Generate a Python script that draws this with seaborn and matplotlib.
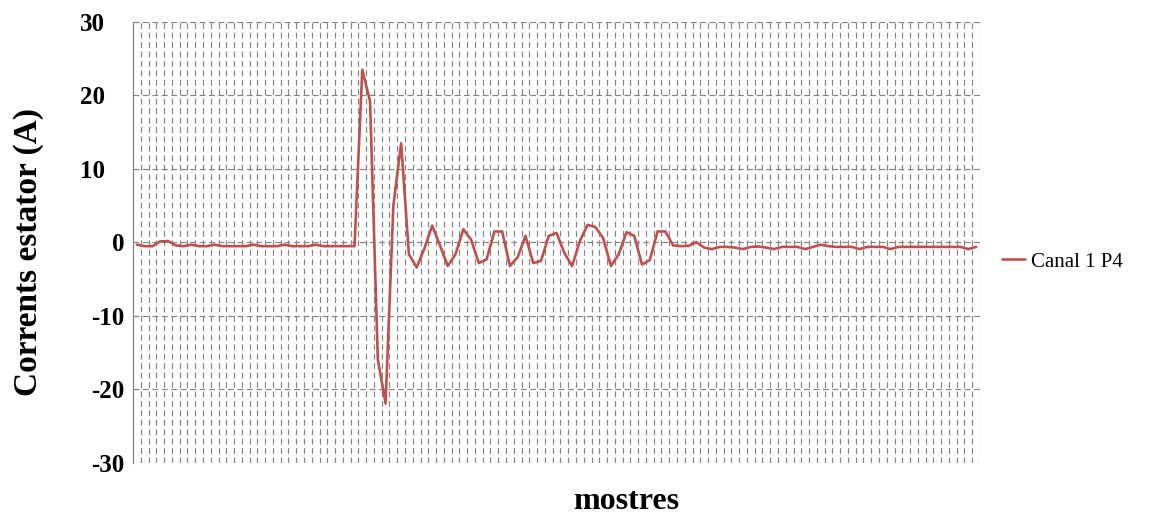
import numpy as np
import pandas as pd
import matplotlib
matplotlib.use("Agg")
import matplotlib.pyplot as plt
import seaborn as sns

# Stator current, channel 1 P4 (A), one value per sample
corrent_previ = [-0.3, -0.5, -0.5, 0.15, 0.2, -0.4, -0.5, -0.3, -0.5, -0.5,
                 -0.3, -0.5, -0.5, -0.5, -0.5, -0.3, -0.5, -0.5, -0.5, -0.3,
                 -0.5, -0.5, -0.5, -0.3, -0.5, -0.5, -0.5, -0.5, -0.5]
corrent_transitori = [23.5, 19.2, -15.9, -21.9, 5.0, 13.5, -1.6, -3.4, -0.8, 2.3,
                      -0.4, -3.2, -1.6, 1.8, 0.4, -2.8, -2.3, 1.5, 1.5, -3.2,
                      -2.0, 0.9, -2.8, -2.5, 0.9, 1.3, -1.4, -3.2, 0.2, 2.4,
                      2.1, 0.6, -3.2, -1.6, 1.4, 0.9, -3.0, -2.4, 1.5, 1.5,
                      -0.4, -0.5, -0.45, 0.05]
corrent_final = [-0.7, -0.9, -0.6, -0.6, -0.7, -0.9, -0.6, -0.55, -0.7, -0.9,
                 -0.6, -0.6, -0.6, -0.9, -0.6, -0.3, -0.5, -0.6, -0.6, -0.6,
                 -0.9, -0.6, -0.6, -0.6, -0.9, -0.6, -0.6, -0.6, -0.6, -0.6,
                 -0.6, -0.6, -0.6, -0.6, -0.9, -0.6]

corrent = corrent_previ + corrent_transitori + corrent_final
mostres = list(range(1, len(corrent) + 1))
yticks = [-30, -20, -10, 0, 10, 20, 30]
serie = "Canal 1 P4"

df = pd.DataFrame({"mostra": mostres, "corrent": corrent})

sns.set_style("white")
plt.rcParams["font.family"] = ["Liberation Serif", "DejaVu Serif"]
plt.rcParams["text.color"] = "black"
plt.rcParams["axes.labelcolor"] = "black"

grid_color = "#858585"
line_color = "#C0504D"

fig = plt.figure(figsize=(11.62, 5.15), dpi=100)
ax = fig.add_axes([0.1145, 0.1010, 0.7289, 0.8563])

sns.lineplot(data=df, x="mostra", y="corrent", ax=ax, color=line_color,
             lw=1.9, label=serie)

n = len(corrent)
ax.set_xlim(0.5, n + 0.5)
ax.set_ylim(-30, 30)

# category boundaries carry the vertical dashed grid
ax.set_xticks(np.arange(1.5, n + 1, 1.0))
ax.tick_params(axis="x", length=0, labelbottom=False)
ax.set_yticks(yticks)
ax.set_yticklabels([str(v) for v in yticks], fontsize=18, fontweight="bold")
ax.tick_params(axis="y", direction="out", length=5.5, width=0.75,
               color=grid_color, labelcolor="black")
for tick, v in zip(ax.yaxis.get_major_ticks(), yticks):
    tick.set_pad(15 if v > 0 else 1)

ax.grid(True, axis="both", color=grid_color, linestyle=(0, (5, 3)),
        linewidth=0.85)
ax.set_axisbelow(True)

for side in ("top", "right", "bottom"):
    ax.spines[side].set_visible(False)
ax.spines["left"].set_color(grid_color)
ax.spines["left"].set_linewidth(0.9)

ax.set_ylabel("Corrents estator (A)", fontsize=24, fontweight="bold",
              color="black")
ax.yaxis.set_label_coords(-0.124, 0.478)
ax.yaxis.label.set_va("center")
ax.set_xlabel("mostres", fontsize=23, fontweight="bold", color="black")
ax.xaxis.set_label_coords(0.582, -0.088)
ax.xaxis.label.set_va("center")

leg = ax.legend(loc="center left", bbox_to_anchor=(0.8623, 0.4913),
                bbox_transform=fig.transFigure, frameon=False, fontsize=15,
                handlelength=1.1, handletextpad=0.3, borderaxespad=0,
                borderpad=0)
for txt in leg.get_texts():
    txt.set_color("black")

fig.savefig("out.png", dpi=100)
